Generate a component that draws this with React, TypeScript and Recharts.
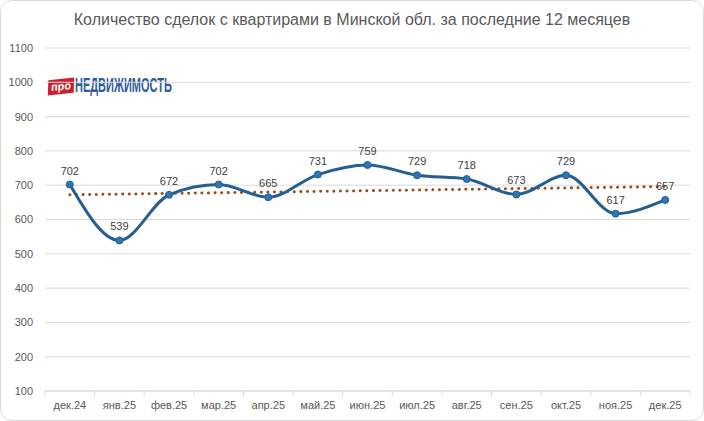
import React from "react";
import { LineChart, Line, XAxis, YAxis, CartesianGrid, LabelList } from "recharts";

const categories = ["дек.24", "янв.25", "фев.25", "мар.25", "апр.25", "май.25", "июн.25", "июл.25", "авг.25", "сен.25", "окт.25", "ноя.25", "дек.25"];
const deals = [702, 539, 672, 702, 665, 731, 759, 729, 718, 673, 729, 617, 657];
const trendStart = 672;
const trendEnd = 696;
const yTicks = [100, 200, 300, 400, 500, 600, 700, 800, 900, 1000, 1100];

const data = categories.map((c, i) => ({
  month: c,
  deals: deals[i],
  trend: i === 0 ? trendStart : i === categories.length - 1 ? trendEnd : null,
}));

const XTick = (props: any) => {
  const { x, y, payload, index, visibleTicksCount } = props;
  const half = payload.offset || 0;
  const isLast = index === visibleTicksCount - 1;
  return (
    <g>
      <line x1={x - half} x2={x - half} y1={y} y2={y + 5} stroke="#d9d9d9" />
      {isLast && <line x1={x + half} x2={x + half} y1={y} y2={y + 5} stroke="#d9d9d9" />}
      <text x={x} y={y + 18} textAnchor="middle" fontSize={11} fill="#595959" fontFamily="Liberation Sans, Arial, sans-serif">
        {payload.value}
      </text>
    </g>
  );
};

export default function App() {
  return (
    <div style={{ position: "absolute", left: 0, top: 0, width: 704, height: 421, background: "#fff", fontFamily: "Liberation Sans, Arial, sans-serif" }}>
      <div style={{ position: "absolute", left: 0, top: 0, width: 702, height: 419, border: "1px solid #d9d9d9", borderRadius: 12 }} />
      <div style={{ position: "absolute", left: 0, top: 11, width: 704, textAlign: "center", fontSize: 16, color: "#595959" }}>
        Количество сделок с квартирами в Минской обл. за последние 12 месяцев
      </div>
      <div style={{ position: "absolute", left: 48, top: 75, display: "flex", alignItems: "center", height: 20 }}>
        <div style={{ background: "#c8202f", color: "#fff", fontSize: 11, fontWeight: 700, padding: "1px 3px 2px", transform: "rotate(-6deg) skewX(-8deg)", lineHeight: "12px", marginTop: 3 }}>
          про
        </div>
        <div style={{ color: "#2d5b9a", fontSize: 20, fontWeight: 700, fontFamily: "Liberation Sans, sans-serif", transform: "scaleX(0.55)", transformOrigin: "left center", marginLeft: 1, whiteSpace: "nowrap" }}>
          НЕДВИЖИМОСТЬ
        </div>
      </div>
      <LineChart width={704} height={421} data={data} margin={{ top: 48, right: 14, bottom: 0, left: 0 }} style={{ position: "absolute", left: 0, top: 0 }}>
        <CartesianGrid vertical={false} stroke="#d9d9d9" />
        <XAxis dataKey="month" scale="band" height={30} tickLine={false} tickSize={0} tickMargin={0} axisLine={{ stroke: "#d9d9d9" }} tick={<XTick />} interval={0} />
        <YAxis width={45} domain={[100, 1100]} ticks={yTicks} axisLine={false} tickLine={false} tickSize={0} tickMargin={12} tick={{ fontSize: 11, fill: "#595959", fontFamily: "Liberation Sans, Arial, sans-serif" }} />
        <Line dataKey="trend" connectNulls stroke="#9c4a1a" strokeWidth={3} strokeDasharray="0.1 6.5" strokeLinecap="round" dot={false} activeDot={false} isAnimationActive={false} />
        <Line type="monotone" dataKey="deals" stroke="#255e91" strokeWidth={3} dot={{ r: 3.5, fill: "#2e75b6", stroke: "#255e91", strokeWidth: 1 }} activeDot={false} isAnimationActive={false}>
          <LabelList dataKey="deals" position="top" offset={10} fontSize={11} fill="#404040" fontFamily="Liberation Sans, Arial, sans-serif" />
        </Line>
      </LineChart>
    </div>
  );
}
